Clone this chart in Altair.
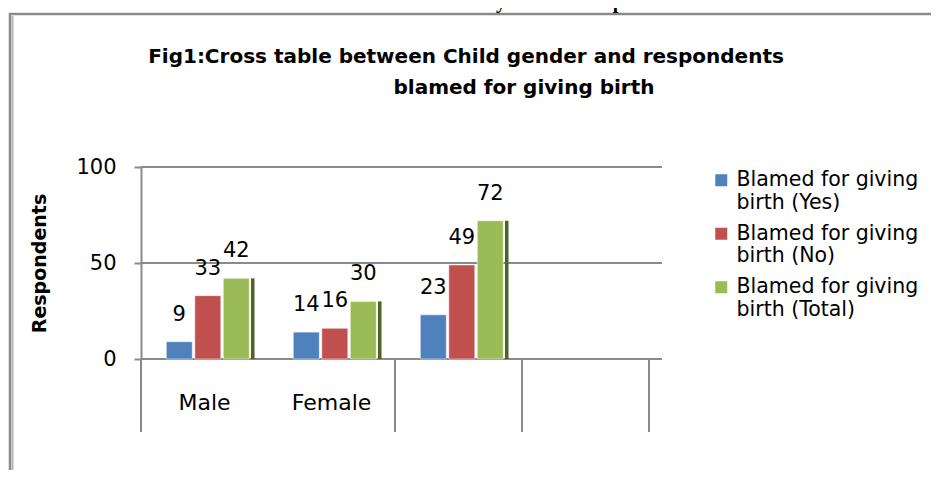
import altair as alt
import pandas as pd

# ---- data ----
categories = ["Male", "Female", "Total", "Blank"]
shown_labels = ["Male", "Female"]
series = ["Blamed for giving birth (Yes)", "Blamed for giving birth (No)", "Blamed for giving birth (Total)"]
yes_values = [9, 14, 23]
no_values = [33, 16, 49]
total_values = [42, 30, 72]
y_ticks = [0, 50, 100]
colors = ["#4F81BD", "#C0504D", "#9BBB59"]
shadow_color = "#4F6228"
title_lines = ["Fig1:Cross table between Child gender and respondents", "blamed for giving birth"]
header_parts = ["V.", "Analysis and Interpretation"]
separator_cats = ["Male", "Total", "Blank"]
end_cats = ["Blank"]

rows = []
for i, cat in enumerate(categories[:3]):
    for s, vals in zip(series, [yes_values, no_values, total_values]):
        rows.append({"cat": cat, "series": s, "value": vals[i]})
df = pd.DataFrame(rows)
total_df = df[df["series"] == series[2]]
grid_df = pd.DataFrame({"value": y_ticks})
sep_df = pd.DataFrame({"cat": separator_cats})
end_df = pd.DataFrame({"cat": end_cats})
one = pd.DataFrame({"k": [0]})

FONT = "DejaVu Sans"
GRAY = "#8a8a8a"

x_scale = alt.Scale(domain=categories, paddingInner=0, paddingOuter=0)
y_scale = alt.Scale(domain=[0, 100], nice=False)
xo = alt.XOffset("series:N", sort=series,
                 scale=alt.Scale(domain=series, paddingInner=0.088, paddingOuter=0.772, align=0.575))

label_expr = "indexof(%s, datum.label) >= 0 ? datum.label : ''" % str(shown_labels)

x_axis = alt.Axis(domain=False, ticks=False, grid=False, labelAngle=0,
                  labelExpr=label_expr, labelFont=FONT, labelFontSize=22,
                  labelColor="black", labelPadding=43, labelBaseline="middle")
y_axis = alt.Axis(values=y_ticks, grid=False, domain=True, domainColor=GRAY, domainWidth=2,
                  tickColor=GRAY, tickWidth=2, tickSize=7,
                  labelFont=FONT, labelFontSize=21, labelColor="black", labelPadding=18,
                  titleFont=FONT, titleFontSize=19, titleFontWeight="bold", titleColor="black",
                  titleX=-102, titleY=96, titleAngle=-90, titleAlign="center",
                  titleBaseline="middle")

X = alt.X("cat:N", scale=x_scale, title=None, axis=x_axis)
Y = alt.Y("value:Q", scale=y_scale, title="Respondents", axis=y_axis)

frame = alt.Chart(one).mark_rect(fillOpacity=0, stroke=GRAY, strokeWidth=2.5).encode(
    x=alt.value(-131), y=alt.value(-153), x2=alt.value(900), y2=alt.value(400)
)
frame_shadow = alt.Chart(one).mark_rule(color="#b5b5b5", strokeWidth=2).encode(
    x=alt.value(-128.5), y=alt.value(-151), y2=alt.value(400)
)

header1 = alt.Chart(pd.DataFrame({"t": [header_parts[0]]})).mark_text(
    font="Liberation Serif", fontWeight="bold", fontSize=20, align="left", baseline="alphabetic", color="black"
).encode(text="t:N", x=alt.value(244), y=alt.value(-159))
header2 = alt.Chart(pd.DataFrame({"t": [header_parts[1]]})).mark_text(
    font="Liberation Serif", fontWeight="bold", fontSize=20, align="left", baseline="alphabetic", color="black"
).encode(text="t:N", x=alt.value(314), y=alt.value(-159))

title1 = alt.Chart(pd.DataFrame({"t": [title_lines[0]]})).mark_text(
    font=FONT, fontWeight="bold", fontSize=20, align="center", baseline="middle", color="black"
).encode(text="t:N", x=alt.value(325), y=alt.value(-110))
title2 = alt.Chart(pd.DataFrame({"t": [title_lines[1]]})).mark_text(
    font=FONT, fontWeight="bold", fontSize=20, align="center", baseline="middle", color="black"
).encode(text="t:N", x=alt.value(383), y=alt.value(-79))

grid = alt.Chart(grid_df).mark_rule(color=GRAY, strokeWidth=2).encode(
    y=Y, x=alt.value(0), x2=alt.value(521)
)

seps = alt.Chart(sep_df).mark_rule(color=GRAY, strokeWidth=2).encode(
    x=alt.X("cat:N", scale=x_scale, title=None, axis=x_axis, bandPosition=0),
    y=alt.datum(0), y2=alt.value(265)
)
seps_end = alt.Chart(end_df).mark_rule(color=GRAY, strokeWidth=2).encode(
    x=alt.X("cat:N", scale=x_scale, title=None, axis=x_axis, bandPosition=1),
    y=alt.datum(0), y2=alt.value(265)
)

bars = alt.Chart(df).mark_bar(stroke="white", strokeWidth=0.5).encode(
    x=X,
    xOffset=xo,
    y=Y,
    color=alt.Color("series:N", sort=series, scale=alt.Scale(domain=series, range=colors),
                    legend=alt.Legend(title=None, orient="none", legendX=570, legendY=3,
                                      symbolType="square", symbolSize=144,
                                      symbolStrokeWidth=0, labelFont=FONT, labelFontSize=20.5,
                                      labelColor="black", labelOffset=5, labelLimit=400,
                                      labelExpr="[slice(datum.label,0,17), slice(datum.label,18)]",
                                      rowPadding=9.5)),
)

shadow = alt.Chart(total_df).mark_rule(color=shadow_color, strokeWidth=3.5).encode(
    x=alt.X("cat:N", scale=x_scale, title=None, axis=x_axis, bandPosition=0.88),
    y=Y, y2=alt.datum(0)
)

labels = alt.Chart(df).mark_text(font=FONT, fontSize=21, color="black", baseline="middle", dy=-27).encode(
    x=X,
    xOffset=xo,
    y=Y,
    text="value:Q",
)

chart = alt.layer(frame, frame_shadow, header1, header2, title1, title2, grid, seps, seps_end,
                  bars, shadow, labels).properties(
    width=508, height=192,
    padding={"left": 133, "top": 159, "right": 282, "bottom": 111},
    autosize=alt.AutoSizeParams(type="none"),
).configure_view(stroke=None)

chart.save("out.html", embed_options={"renderer": "svg", "actions": False})
